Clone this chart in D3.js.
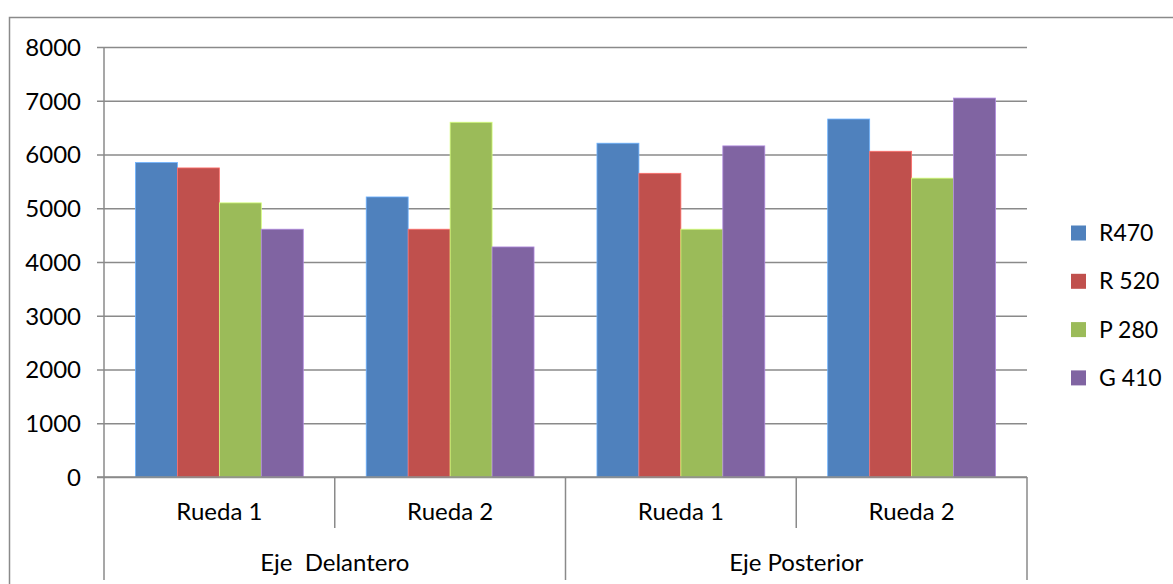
<!DOCTYPE html>
<html>
<head>
<meta charset="utf-8">
<script src="https://cdn.jsdelivr.net/npm/d3@7"></script>
<style>
  html, body { margin: 0; padding: 0; background: #fff; }
  svg { display: block; }
  text { font-family: Lato, "Open Sans", sans-serif; fill: #000; }
</style>
</head>
<body>
<svg id="chart" width="1173" height="584"></svg>
<script>
// Axle / wheel groups
const axles = ["Eje  Delantero", "Eje Posterior"];
const wheels = ["Rueda 1", "Rueda 2"];
const categories = ["Delantero|Rueda 1", "Delantero|Rueda 2", "Posterior|Rueda 1", "Posterior|Rueda 2"];

// Series
const seriesNames = ["R470", "R 520", "P 280", "G 410"];
const seriesColors = ["#4f81bd", "#c0504d", "#9bbb59", "#8064a2"];
const r470 = [5850, 5210, 6210, 6660];
const r520 = [5750, 4610, 5650, 6060];
const p280 = [5100, 6600, 4610, 5560];
const g410 = [4610, 4280, 6160, 7050];
const yTicks = [0, 1000, 2000, 3000, 4000, 5000, 6000, 7000, 8000];

const seriesValues = [r470, r520, p280, g410];

const svg = d3.select("#chart");
const m = { left: 104, right: 1027, top: 47, bottom: 477 };
const gridColor = "#8a8a8a";

// Outer chart frame
svg.append("path")
  .attr("d", `M9.5,600 V17.5 H1180`)
  .attr("fill", "none").attr("stroke", gridColor).attr("stroke-width", 1.5);

const y = d3.scaleLinear().domain([0, 8000]).range([m.bottom, m.top]);
const x0 = d3.scaleBand().domain(categories).range([m.left, m.right]).padding(0);
const gap = x0.bandwidth() * 1.5 / 5.5 / 2;
const x1 = d3.scaleBand().domain(seriesNames).range([gap, x0.bandwidth() - gap]).padding(0);

// Gridlines and value axis ticks
const yAxis = d3.axisLeft(y).tickValues(yTicks).tickSize(-(m.right - m.left)).tickFormat(d3.format("d"));
const gy = svg.append("g").attr("transform", `translate(${m.left},0)`).call(yAxis);
gy.select(".domain").remove();
gy.selectAll(".tick line").attr("stroke", gridColor).attr("stroke-width", 1.5).attr("x1", -7);
gy.selectAll(".tick text").attr("x", -23).attr("dy", "0.35em")
  .style("font-size", "24px").style("font-family", "Lato, sans-serif").attr("fill", "#000");

// Value axis line
svg.append("line").attr("x1", m.left).attr("x2", m.left).attr("y1", m.top).attr("y2", 580)
  .attr("stroke", gridColor).attr("stroke-width", 1.5);

// Bars
const rows = categories.map((c, i) => ({ cat: c, vals: seriesNames.map((s, k) => ({ s, k, v: seriesValues[k][i] })) }));
svg.append("g").selectAll("g").data(rows).join("g")
  .attr("transform", d => `translate(${x0(d.cat)},0)`)
  .selectAll("rect").data(d => d.vals).join("rect")
  .attr("x", d => x1(d.s))
  .attr("y", d => y(d.v))
  .attr("width", x1.bandwidth())
  .attr("height", d => y(0) - y(d.v))
  .attr("fill", d => seriesColors[d.k])
  .attr("stroke", d => d3.color(seriesColors[d.k]).brighter(0.9))
  .attr("stroke-width", 0.8);

// Category axis baseline
svg.append("line").attr("x1", m.left - 7).attr("x2", m.right).attr("y1", m.bottom).attr("y2", m.bottom)
  .attr("stroke", gridColor).attr("stroke-width", 1.5);

// Inner dividers between wheels, outer dividers between axles
const bw = x0.bandwidth();
categories.forEach((c, i) => {
  if (i % 2 === 1) {
    svg.append("line").attr("x1", x0(c)).attr("x2", x0(c)).attr("y1", m.bottom).attr("y2", 528)
      .attr("stroke", gridColor).attr("stroke-width", 1.5);
  }
});
[x0(categories[2]), m.right].forEach(xx => {
  svg.append("line").attr("x1", xx).attr("x2", xx).attr("y1", m.bottom).attr("y2", 580)
    .attr("stroke", gridColor).attr("stroke-width", 1.5);
});

// Wheel labels
svg.append("g").selectAll("text").data(categories).join("text")
  .attr("x", d => x0(d) + bw / 2).attr("y", 512).attr("dy", "0.35em")
  .attr("text-anchor", "middle").style("font-size", "24px")
  .text((d, i) => wheels[i % 2]);

// Axle labels
svg.append("g").selectAll("text").data(axles).join("text")
  .attr("x", (d, i) => x0(categories[i * 2]) + bw)
  .attr("y", 563).attr("dy", "0.35em")
  .attr("text-anchor", "middle").style("font-size", "24px")
  .style("white-space", "pre").attr("xml:space", "preserve")
  .text(d => d);

// Legend
const lg = svg.append("g").selectAll("g").data(seriesNames).join("g")
  .attr("transform", (d, i) => `translate(1071,${233 + i * 48.3})`);
lg.append("rect").attr("x", 0).attr("y", -7.5).attr("width", 15).attr("height", 15)
  .attr("fill", (d, i) => seriesColors[i]);
lg.append("text").attr("x", 28).attr("dy", "0.35em").style("font-size", "23px").text(d => d);
</script>
</body>
</html>
